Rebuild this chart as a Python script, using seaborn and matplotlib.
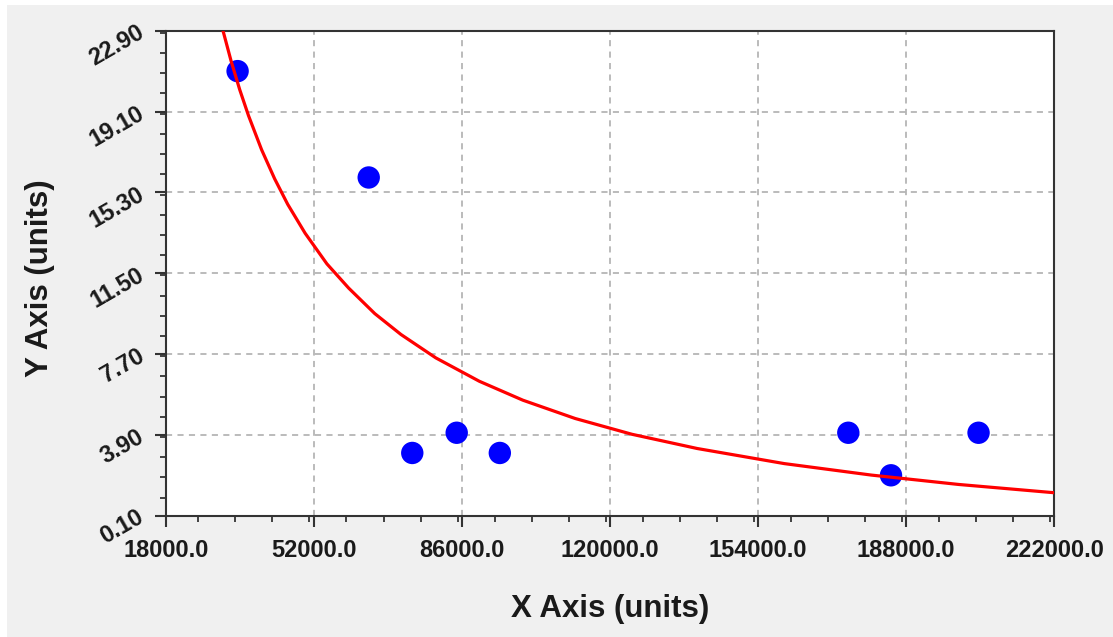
import numpy as np
import pandas as pd
import matplotlib.pyplot as plt
import seaborn as sns
from matplotlib.patches import Rectangle
from matplotlib.ticker import MultipleLocator, FormatStrFormatter

# puntos medidos
x_puntos = [34500, 64600, 74600, 84800, 94700, 174700, 184500, 204600]
y_puntos = [21.0, 16.0, 3.05, 4.0, 3.05, 4.0, 2.0, 4.0]

# curva ajustada
x_curva = [31150, 33000, 35000, 37000, 40000, 43000, 46000, 50000, 55000,
           60000, 66000, 72000, 80000, 90000, 100000, 112000, 125000,
           140000, 160000, 180000, 200000, 222000]
y_curva = [22.90, 21.48, 20.12, 18.91, 17.31, 15.94, 14.74, 13.38, 11.94,
           10.80, 9.60, 8.62, 7.52, 6.42, 5.53, 4.67, 3.93,
           3.26, 2.55, 2.01, 1.57, 1.18]

x_ticks = [18000, 52000, 86000, 120000, 154000, 188000, 222000]
y_ticks = [0.1, 3.9, 7.7, 11.5, 15.3, 19.1, 22.9]

df_puntos = pd.DataFrame({'x': x_puntos, 'y': y_puntos})
df_curva = pd.DataFrame({'x': x_curva, 'y': y_curva})

sns.set_style('white')
plt.rcParams['font.family'] = ['Liberation Sans', 'DejaVu Sans']

fig = plt.figure(figsize=(11.13, 6.37), dpi=100, facecolor='white')
fig.patches.append(Rectangle((7 / 1113, 0), 1, 632 / 637, transform=fig.transFigure,
                             facecolor='#f0f0f0', edgecolor='none', zorder=-10))
ax = fig.add_axes([0.1489, 0.1904, 0.7984, 0.7614])
ax.set_facecolor('white')

sns.scatterplot(x='x', y='y', data=df_puntos, ax=ax, color='#0000ff', s=260,
                edgecolor='none', zorder=3)
sns.lineplot(x='x', y='y', data=df_curva, ax=ax, color='#ff0000', linewidth=2.3,
             sort=False, estimator=None, zorder=4)

ax.set_xlim(18000, 222000)
ax.set_ylim(0.1, 22.9)
ax.set_xticks(x_ticks)
ax.set_yticks(y_ticks)
ax.xaxis.set_minor_locator(MultipleLocator(8500))
ax.yaxis.set_minor_locator(MultipleLocator(0.95))
ax.xaxis.set_major_formatter(FormatStrFormatter('%.1f'))
ax.yaxis.set_major_formatter(FormatStrFormatter('%.2f'))

ax.grid(True, which='major', color='#a8a8a8', linestyle=(0, (4, 3.5)), linewidth=1.1)
for s in ax.spines.values():
    s.set_color('#333333')
    s.set_linewidth(1.5)

ax.tick_params(which='major', direction='out', length=8, width=1.5, color='#333333',
               labelsize=17, pad=9)
ax.tick_params(which='minor', direction='out', length=4.5, width=1.3, color='#333333')
ax.tick_params(top=False, right=False, which='both')
ax.tick_params(axis='x', which='both', bottom=True)
ax.tick_params(axis='y', which='both', left=True)

for lab in ax.get_xticklabels():
    lab.set_fontweight('bold')
    lab.set_color('#1a1a1a')
for lab in ax.get_yticklabels():
    lab.set_fontweight('bold')
    lab.set_color('#1a1a1a')
    lab.set_rotation(30)
    lab.set_rotation_mode('anchor')
    lab.set_ha('right')
    lab.set_va('center')

ax.set_xlabel('X Axis (units)', fontsize=22.5, fontweight='bold', color='#1a1a1a')
ax.set_ylabel('Y Axis (units)', fontsize=22.5, fontweight='bold', color='#1a1a1a')
ax.xaxis.set_label_coords(0.5, -0.161)
ax.yaxis.set_label_coords(-0.125, 0.49)

fig.savefig('out.png', dpi=100, facecolor=fig.get_facecolor())
